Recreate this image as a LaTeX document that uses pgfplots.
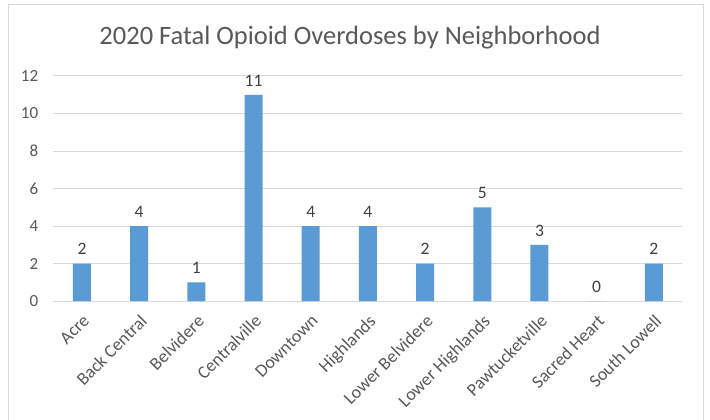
\documentclass[border=0pt]{standalone}
\usepackage{fontspec}
\setmainfont{Carlito}
\usepackage{pgfplots}
\pgfplotsset{compat=1.18}
\definecolor{barblue}{HTML}{5B9BD5}
\definecolor{gridgray}{HTML}{D9D9D9}
\definecolor{txtgray}{HTML}{595959}
\definecolor{lblgray}{HTML}{404040}
\begin{document}
\begin{tikzpicture}[x=1bp,y=1bp]
\useasboundingbox (0,0) rectangle (710,419);
\fill[white] (0,0) rectangle (710,419);
\draw[gridgray, line width=1bp] (8,-10) -- (8,414) -- (703,414) -- (703,-10);
\node[txtgray, font=\fontsize{26.5bp}{30bp}\selectfont] at (350,381) {2020 Fatal Opioid Overdoses by Neighborhood};
\begin{axis}[
  at={(53.4bp,118bp)}, anchor=south west,
  scale only axis, width=629bp, height=225bp,
  xmin=-0.5, xmax=10.5, ymin=0, ymax=12,
  ytick={0,2,...,12},
  xtick={0,...,10},
  xticklabels={Acre,Back Central,Belvidere,Centralville,Downtown,Highlands,Lower Belvidere,Lower Highlands,Pawtucketville,Sacred Heart,South Lowell},
  xticklabel style={xshift=0bp, yshift=-11bp, rotate=45, anchor=north east, inner sep=1bp, font=\fontsize{18bp}{21bp}\selectfont},
  yticklabel style={inner sep=0pt, xshift=-15bp},
  major tick length=0pt,
  axis line style={draw=none},
  axis x line*=bottom,
  ymajorgrids, grid style={gridgray, line width=1bp},
  tick label style={txtgray, font=\fontsize{17bp}{20bp}\selectfont},
  /pgf/number format/assume math mode=true,
  ybar, bar width=18bp,
  nodes near coords,
  every node near coord/.append style={lblgray, font=\fontsize{17.5bp}{20bp}\selectfont, yshift=5bp},
  clip=false,
]
\addplot[fill=barblue, draw=none] coordinates {(0,2) (1,4) (2,1) (3,11) (4,4) (5,4) (6,2) (7,5) (8,3) (9,0) (10,2)};
\end{axis}
\end{tikzpicture}
\end{document}
